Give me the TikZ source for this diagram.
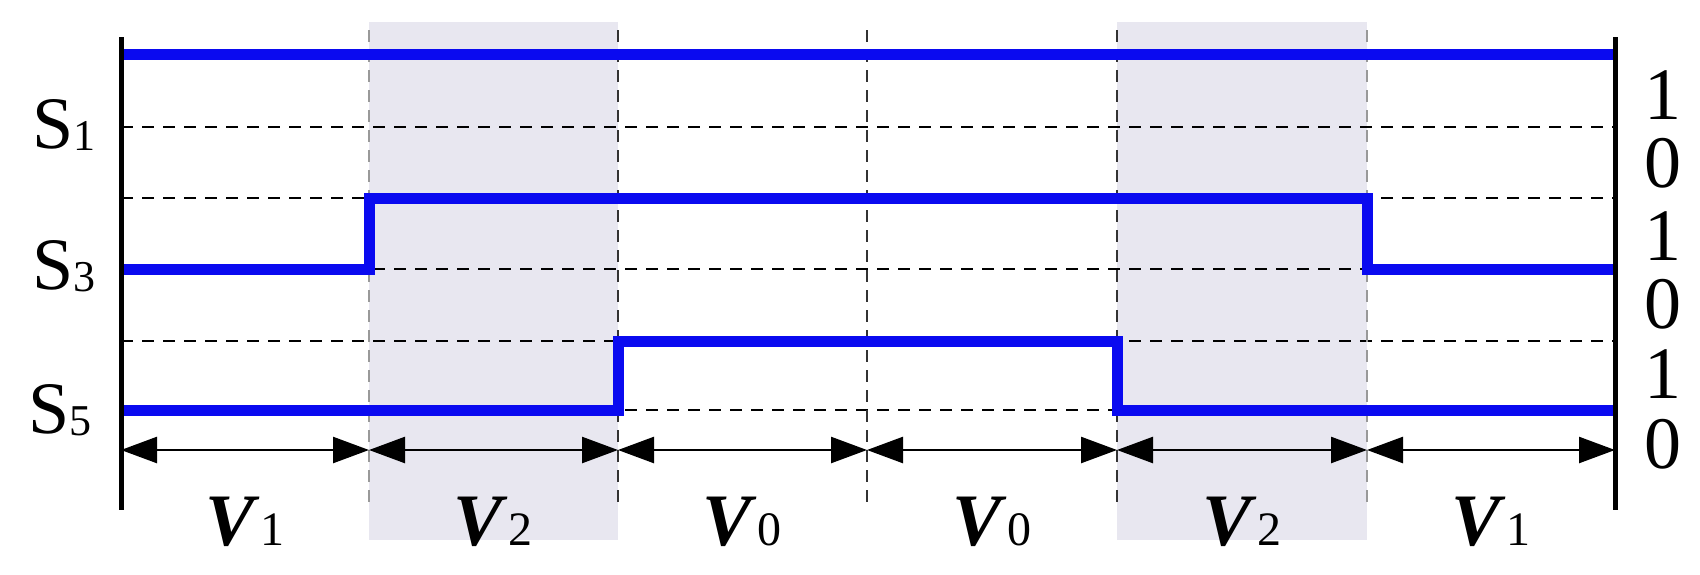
\documentclass[tikz,border=0pt]{standalone}
\usepackage{fontspec}
\setmainfont{Liberation Serif}
\usetikzlibrary{arrows.meta}
\definecolor{bandgray}{RGB}{232,231,240}
\begin{document}
\begin{tikzpicture}[x=1pt,y=-1pt,
  sig/.style={line width=11pt,color={rgb,255:red,10;green,10;blue,240},line join=miter},
  grid/.style={dashed,line width=2pt,dash pattern=on 12pt off 9pt},
  gdiv/.style={dashed,line width=2.5pt,gray!80,dash pattern=on 12pt off 8pt},
  bdiv/.style={dashed,line width=2pt,black!80,dash pattern=on 12pt off 8pt},
  dim/.style={line width=2.5pt,{Triangle[length=36pt,width=26pt]}-{Triangle[length=36pt,width=26pt]}},
  lab/.style={font=\fontsize{74}{80}\selectfont,inner sep=0pt},
  vlab/.style={font=\fontsize{74}{80}\selectfont,inner sep=0pt}]
\useasboundingbox (0,0) rectangle (1700,574);
\fill[white] (0,0) rectangle (1700,574);
\fill[fill=bandgray] (369,22) rectangle (618,540);
\fill[fill=bandgray] (1117,22) rectangle (1367,540);
% grid lines
\foreach \y in {127,198,269,341,410} \draw[grid] (121,\y) -- (1615,\y);
% dividers
\foreach \x in {369,1367} \draw[gdiv] (\x,30) -- (\x,505);
\foreach \x in {618,867,1117} \draw[bdiv] (\x,30) -- (\x,505);
% coordinates for arrows
\foreach \n/\x in {a/121,b/369,c/618,d/867,e/1117,f/1367,g/1615} \coordinate (\n) at (\x,450);
\foreach \p/\q in {a/b,b/c,c/d,d/e,e/f,f/g} \draw[dim] (\p) -- (\q);
% signals
\draw[sig] (121,54) -- (1615,54);
\draw[sig] (121,269) -- (369,269) -- (369,198) -- (1367,198) -- (1367,269) -- (1615,269);
\draw[sig] (121,410) -- (618,410) -- (618,341) -- (1117,341) -- (1117,410) -- (1615,410);
% frame
\draw[line width=5pt] (121,37) -- (121,510);
\draw[line width=5pt] (1615,37) -- (1615,510);
% labels
\node[lab] (s1) at (64,125) {S\raisebox{-0.02em}{\fontsize{44}{50}\selectfont 1}};
\node[lab] (s3) at (64,266) {S\raisebox{-0.02em}{\fontsize{44}{50}\selectfont 3}};
\node[lab] (s5) at (60,410) {S\raisebox{-0.02em}{\fontsize{44}{50}\selectfont 5}};
\foreach \t/\y [count=\i] in {1/95,0/163,1/236,0/304,1/374,0/444}
  \node[lab] (r\i) at (1663,\y) {\t};
\foreach \t/\x [count=\i] in {1/245,2/493,0/742,0/992,2/1242,1/1491}
  \node[vlab] (v\i) at (\x,522) {\textbf{\textit{V}}\kern1pt{\fontsize{48}{50}\selectfont\t}};
\end{tikzpicture}
\end{document}
